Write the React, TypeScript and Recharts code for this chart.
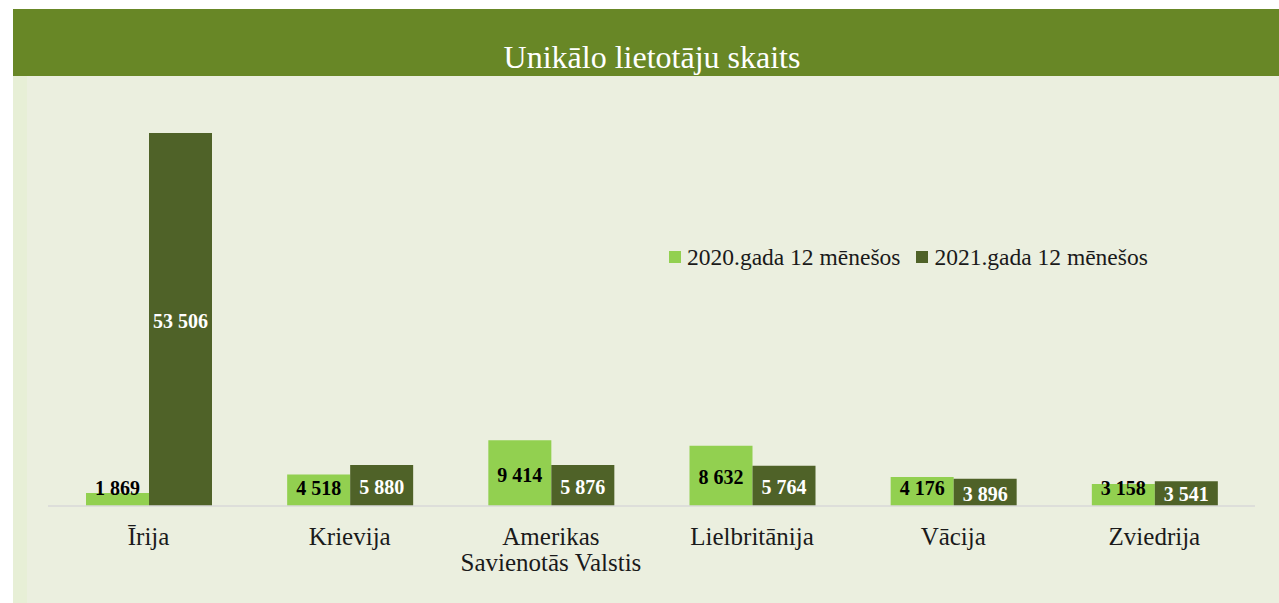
import { BarChart, Bar, XAxis, YAxis, Legend, LabelList } from 'recharts';

const categories = [
  'Īrija',
  'Krievija',
  'Amerikas Savienotās Valstis',
  'Lielbritānija',
  'Vācija',
  'Zviedrija',
];
const users2020 = [1869, 4518, 9414, 8632, 4176, 3158];
const users2021 = [53506, 5880, 5876, 5764, 3896, 3541];
const seriesNames = ['2020.gada 12 mēnešos', '2021.gada 12 mēnešos'];
const yDomain = [0, 60000];
const title = 'Unikālo lietotāju skaits';

const data = categories.map((name, i) => ({
  name,
  y2020: users2020[i],
  y2021: users2021[i],
}));

const FONT = '"Liberation Serif", "Times New Roman", serif';
const LIGHT = '#92D050';
const DARK = '#4F6228';
const TEXT = '#1a1a1a';

const W = 1266;
const H = 594;

// thousands separated by a space, like the original
const fmt = (v: number) => String(v).replace(/\B(?=(\d{3})+(?!\d))/g, ' ');

function CategoryTick({ x, y, payload }: any) {
  const text: string = payload.value;
  const cut = text.indexOf(' ');
  const lines = text.length > 20 ? [text.slice(0, cut), text.slice(cut + 1)] : [text];
  return (
    <text x={x} y={y} textAnchor="middle" fill={TEXT} fontSize={25} fontFamily={FONT}>
      {lines.map((l, i) => (
        <tspan key={i} x={x} dy={i === 0 ? 39 : 26}>
          {l}
        </tspan>
      ))}
    </text>
  );
}

// centred in the bar, pushed up a bit when the bar is too short
const makeLabel = (color: string, minGap: number) => (props: any) => {
  const { x, y, width, height, value } = props;
  const bottom = y + height;
  const cy = Math.min(y + height / 2 + 1.5, bottom - minGap);
  return (
    <text
      x={x + width / 2}
      y={cy}
      textAnchor="middle"
      dominantBaseline="central"
      fill={color}
      fontSize={20}
      fontWeight="bold"
      fontFamily={FONT}
    >
      {fmt(value)}
    </text>
  );
};

function LegendContent({ payload }: any) {
  return (
    <div style={{ display: 'flex', fontFamily: FONT, fontSize: 23.5, color: TEXT, lineHeight: '26px' }}>
      {(payload || []).map((p: any, i: number) => (
        <div
          key={i}
          style={{ display: 'flex', alignItems: 'center', marginRight: 16, whiteSpace: 'nowrap', fontFamily: FONT }}
        >
          <span style={{ display: 'inline-block', width: 12, height: 12, background: p.color, marginRight: 6 }} />
          <span style={{ fontFamily: FONT }}>{p.value}</span>
        </div>
      ))}
    </div>
  );
}

export default function App() {
  return (
    <div
      style={{
        position: 'absolute',
        left: 13,
        top: 9,
        width: W,
        height: H,
        background: '#EBEFDF',
        overflow: 'hidden',
      }}
    >
      <div style={{ position: 'absolute', left: 0, top: 67, width: 14, height: H - 67, background: '#E7EFD6' }} />
      <div style={{ position: 'absolute', left: 0, top: 0, width: W, height: 67, background: '#688726' }}>
        <div
          style={{
            position: 'absolute',
            left: 6,
            top: 32,
            width: W,
            textAlign: 'center',
            fontFamily: FONT,
            fontSize: 32,
            lineHeight: '32px',
            color: '#ffffff',
          }}
        >
          {title}
        </div>
      </div>
      <div style={{ position: 'absolute', left: 0, top: 0 }}>
        <BarChart
          width={W}
          height={H}
          data={data}
          margin={{ top: 78.7, right: 24, bottom: 17, left: 35 }}
          barCategoryGap={38}
          barGap={0}
        >
          <XAxis
            dataKey="name"
            height={80}
            tickLine={false}
            tickSize={0}
            tickMargin={0}
            axisLine={{ stroke: '#D9D9D9', strokeWidth: 1.5 }}
            tick={<CategoryTick />}
            interval={0}
          />
          <YAxis hide domain={yDomain} />
          <Legend
            layout="horizontal"
            verticalAlign="middle"
            align="center"
            content={<LegendContent />}
            wrapperStyle={{ position: 'absolute', left: 656, top: 235, width: 600, fontFamily: FONT }}
          />
          <Bar dataKey="y2020" name={seriesNames[0]} fill={LIGHT} isAnimationActive={false}>
            <LabelList dataKey="y2020" content={makeLabel('#000000', 18)} />
          </Bar>
          <Bar dataKey="y2021" name={seriesNames[1]} fill={DARK} isAnimationActive={false}>
            <LabelList dataKey="y2021" content={makeLabel('#ffffff', 12)} />
          </Bar>
        </BarChart>
      </div>
    </div>
  );
}
